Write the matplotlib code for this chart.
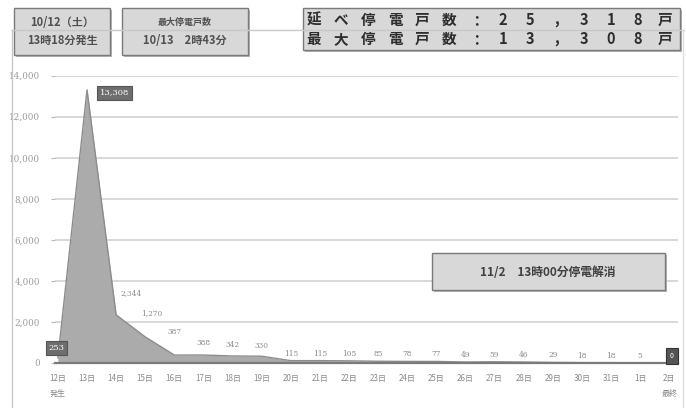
import matplotlib.pyplot as plt
from matplotlib.patches import Rectangle

plt.rcParams['font.family'] = ['Noto Sans CJK JP', 'DejaVu Sans']

# data
days = ['12日', '13日', '14日', '15日', '16日', '17日', '18日', '19日', '20日', '21日', '22日',
        '23日', '24日', '25日', '26日', '27日', '28日', '29日', '30日', '31日', '1日', '2日']
sub_labels = {0: '発生', 21: '最終'}
outages = [253, 13308, 2344, 1270, 387, 388, 342, 330, 115, 115, 105,
           85, 78, 77, 49, 59, 46, 29, 18, 18, 5, 0]
yticks = [0, 2000, 4000, 6000, 8000, 10000, 12000, 14000]

W, H = 686, 408


def fx(x):
    return x / W


def fy(y):
    return 1 - y / H


def main():
    fig = plt.figure(figsize=(W / 100, H / 100), dpi=100)
    fig.patch.set_facecolor('white')

    # outer frame lines
    fig.add_artist(plt.Line2D([fx(12), fx(12)], [fy(30), fy(410)], color='#c8c8c8', lw=1))
    fig.add_artist(plt.Line2D([fx(12), fx(684)], [fy(30), fy(30)], color='#c8c8c8', lw=1))
    fig.add_artist(plt.Line2D([fx(683), fx(683)], [fy(30), fy(410)], color='#dddddd', lw=1))

    ax = fig.add_axes([fx(55), fy(363), fx(678) - fx(55), fy(75.6) - fy(363)])
    x = list(range(len(days)))

    ax.fill_between(x, outages, 0, color='#ababab', lw=0, zorder=2)
    ax.plot(x, outages, color='#8c8c8c', lw=1, zorder=3)

    ax.set_xlim(-0.1, 21.3)
    ax.set_ylim(0, 14000)
    ax.set_yticks(yticks)
    ax.set_yticklabels(['{:,}'.format(v) for v in yticks], fontsize=6.3, color='#9a9a9a',
                       family=['DejaVu Serif'])
    ax.yaxis.grid(True, color='#d8d8d8', lw=1.4)
    ax.set_axisbelow(True)
    ax.tick_params(axis='y', length=3, color='#bbbbbb', pad=8)

    ax.set_xticks(x)
    ax.set_xticklabels([d + ('\n' + sub_labels[i] if i in sub_labels else '')
                        for i, d in enumerate(days)],
                       fontsize=5.8, color='#8a8a8a', linespacing=1.8, va='top')
    ax.tick_params(axis='x', length=0, pad=8)

    for s in ['top', 'right', 'left']:
        ax.spines[s].set_visible(False)
    ax.spines['bottom'].set_color('#7a7a7a')
    ax.spines['bottom'].set_linewidth(1.6)
    ax.spines['bottom'].set_zorder(4)

    # value labels
    dy = [0, 0, 22, 24, 23, 12, 11, 10] + [7] * 14
    for i, v in enumerate(outages):
        txt = '{:,}'.format(v)
        if i in (0, 1, 21):
            continue
        ax.annotate(txt, (i, v), xytext=(3 if i == 2 else (5 if i == 3 else 0), dy[i] * 0.72),
                    textcoords='offset points', ha='left' if i == 2 else 'center',
                    va='center', fontsize=5.3, color='#8a8a8a', family=['DejaVu Serif'],
                    zorder=5)

    box_kw = dict(boxstyle='square,pad=0.35', fc='#6e6e6e', ec='#555555', lw=0.8)
    ax.annotate('13,308', (1, outages[1]), xytext=(20, -2), textcoords='offset points',
                ha='center', va='center', fontsize=6, color='white', bbox=box_kw,
                family=['DejaVu Serif'], zorder=6, annotation_clip=False)
    ax.annotate('253', (0, outages[0]), xytext=(-1, 7), textcoords='offset points',
                ha='center', va='center', fontsize=6, color='white', bbox=box_kw,
                family=['DejaVu Serif'], zorder=6)
    ax.annotate('0', (21, outages[21]), xytext=(2, 5), textcoords='offset points',
                ha='center', va='center', fontsize=5, color='white',
                bbox=dict(boxstyle='square,pad=0.6', fc='#555555', ec='#333333', lw=0.8),
                zorder=6, annotation_clip=False)

    # info boxes
    def box(x0, y0, x1, y1):
        fig.add_artist(Rectangle((fx(x0 + 2), fy(y1 + 2)), fx(x1 - x0), fy(y0) - fy(y1),
                                 transform=fig.transFigure, fc='#b5b5b5', ec='none'))
        fig.add_artist(Rectangle((fx(x0), fy(y1)), fx(x1 - x0), fy(y0) - fy(y1),
                                 transform=fig.transFigure, fc='#d8d8d8', ec='#7a7a7a', lw=1))

    box(14, 8, 110, 55)
    fig.text(fx(62), fy(22), '10/12（土）', ha='center', va='center', fontsize=8,
             fontweight='bold', color='#505050')
    fig.text(fx(62), fy(40), '13時18分発生', ha='center', va='center', fontsize=8,
             fontweight='bold', color='#505050')

    box(122, 8, 248, 55)
    fig.text(fx(185), fy(22), '最大停電戸数', ha='center', va='center', fontsize=6.5,
             fontweight='bold', color='#505050')
    fig.text(fx(185), fy(40), '10/13\u30002時43分', ha='center', va='center', fontsize=8,
             fontweight='bold', color='#505050')

    box(303, 8, 680, 50)
    row1 = '延べ停電戸数：25,318戸'
    row2 = '最大停電戸数：13,308戸'
    for k, (a, b) in enumerate(zip(row1, row2)):
        xc = 314 + k * 27
        fig.text(fx(xc), fy(20), a, ha='center', va='center', fontsize=10.5,
                 fontweight='bold', color='#2e2e2e')
        fig.text(fx(xc), fy(39), b, ha='center', va='center', fontsize=10.5,
                 fontweight='bold', color='#2e2e2e')

    box(432, 253, 665, 290)
    fig.text(fx(548), fy(272), '11/2\u300013時00分停電解消', ha='center', va='center',
             fontsize=8.5, fontweight='bold', color='#404040')

    fig.savefig('out.png', dpi=100, facecolor='white')


if __name__ == '__main__':
    main()
